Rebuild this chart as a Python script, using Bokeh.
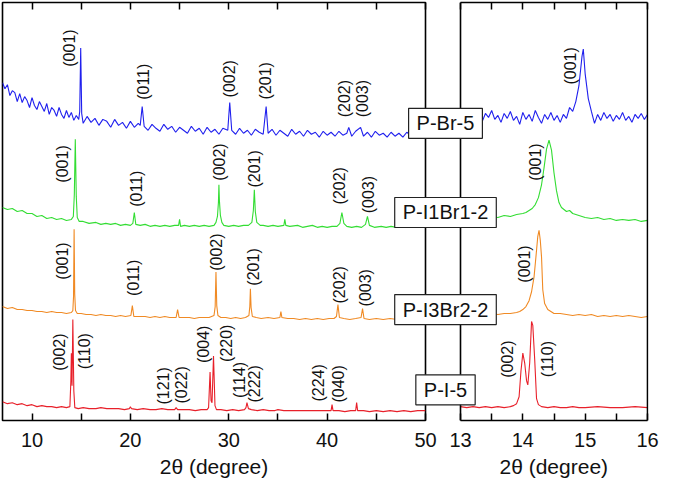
import numpy as np
from bokeh.plotting import figure
from bokeh.models import Range1d, LinearAxis, FixedTicker, Label, ColumnDataSource, Span, Title
from bokeh.layouts import row
from bokeh.core.properties import value
from bokeh.embed import file_html
from bokeh.resources import INLINE

# ---------------- data (2theta in degrees, stacked intensity in a.u.) ----------------
# Left panel: 7-50 deg
br5_pts = [(7.0, 341), (7.25, 335), (7.5, 339), (7.75, 328), (8.0, 333), (8.25, 331), (8.5, 322),
           (8.75, 330), (9.0, 321), (9.25, 327), (9.5, 323), (9.75, 316), (10.0, 326), (10.25, 318),
           (10.5, 314), (10.75, 322), (11.0, 317), (11.25, 312), (11.5, 320), (11.75, 309),
           (12.0, 316), (12.25, 313), (12.5, 307), (12.75, 316), (13.0, 309), (13.25, 305),
           (13.5, 313), (13.75, 306), (14.0, 311), (14.25, 303), (14.5, 308), (14.75, 304),
           (14.85, 312), (14.95, 376), (15.05, 310), (15.2, 300), (15.6, 307), (16.0, 301),
           (16.4, 305), (16.8, 298), (17.2, 304), (17.6, 302), (18.0, 296), (18.4, 304), (18.8, 298),
           (19.2, 301), (19.6, 295), (20.0, 302), (20.4, 296), (20.8, 300), (21.0, 298), (21.2, 317),
           (21.4, 297), (21.8, 293), (22.2, 299), (22.6, 295), (23.0, 292), (23.4, 299), (23.8, 294),
           (24.2, 297), (24.6, 291), (25.0, 296), (25.4, 293), (25.8, 290), (26.2, 297), (26.6, 292),
           (27.0, 295), (27.4, 289), (27.8, 296), (28.2, 291), (28.6, 294), (29.0, 289), (29.4, 295),
           (29.9, 293), (30.1, 321), (30.3, 293), (30.7, 289), (31.1, 295), (31.5, 290), (31.9, 293),
           (32.3, 288), (32.7, 294), (33.1, 291), (33.5, 289), (33.8, 317), (34.0, 290), (34.4, 294),
           (34.8, 288), (35.2, 293), (35.6, 290), (36.0, 287), (36.4, 294), (36.8, 289), (37.2, 292),
           (37.6, 287), (38.0, 293), (38.4, 289), (38.8, 291), (39.2, 286), (39.6, 292), (40.0, 288),
           (40.4, 291), (40.8, 287), (41.2, 292), (41.6, 288), (42.0, 290), (42.2, 296), (42.5, 287),
           (42.9, 292), (43.4, 296), (43.7, 287), (44.1, 291), (44.5, 286), (44.9, 292), (45.3, 288),
           (45.7, 290), (46.1, 286), (46.5, 291), (46.9, 287), (47.3, 290), (47.7, 286), (48.1, 291),
           (48.5, 288), (48.9, 285), (49.3, 291), (49.7, 287), (50.0, 289)]
br5_x = [p[0] for p in br5_pts]
br5_y = [p[1] for p in br5_pts]

i1br1_x = [7.0, 7.5, 8.0, 8.5, 9.0, 9.5, 10.0, 10.5, 11.0, 11.5, 12.0, 12.5, 13.0, 13.5, 14.0, 14.2,
           14.3, 14.4, 14.5, 14.6, 14.8, 15.2, 15.8, 16.5, 17.0, 17.5, 18.0, 18.5, 19.0, 19.5, 20.0,
           20.25, 20.4, 20.55, 21.0, 21.5, 22.0, 22.5, 23.0, 23.5, 24.0, 24.5, 24.9, 25.0, 25.1,
           25.5, 26.0, 26.5, 27.0, 27.5, 28.0, 28.5, 28.7, 28.85, 28.95, 29.0, 29.05, 29.15, 29.3,
           29.5, 30.0, 30.5, 31.0, 31.5, 32.0, 32.35, 32.5, 32.6, 32.7, 32.85, 33.2, 33.5, 34.0,
           34.5, 35.0, 35.6, 35.7, 35.8, 36.2, 37.0, 37.5, 38.0, 38.5, 39.0, 39.5, 40.0, 40.5,
           41.0, 41.3, 41.5, 41.7, 42.0, 42.5, 43.0, 43.5, 43.9, 44.1, 44.3, 44.8, 45.5, 46.0,
           46.5, 47.0, 47.5, 48.0, 48.5, 49.0, 49.5, 50.0]
i1br1_y = [215, 213, 214, 211, 212, 209, 209, 206, 207, 204, 205, 203, 204, 202, 203, 206,
           228, 284, 226, 205, 201, 201, 199, 200, 198, 199, 198, 199, 197, 198, 197,
           199, 210, 198, 197, 198, 196, 197, 196, 197, 196, 197, 197, 203, 196,
           197, 196, 197, 196, 197, 196, 197, 200, 206, 220, 238, 222, 207, 200,
           197, 196, 197, 196, 197, 197, 200, 212, 233, 211, 200, 197, 197, 196,
           197, 196, 197, 203, 197, 196, 197, 195, 196, 197, 195, 196, 195, 196,
           196, 199, 210, 199, 196, 195, 196, 195, 198, 206, 197, 195, 196, 195,
           196, 195, 196, 195, 196, 195, 196, 196]

i3br2_x = [7.0, 7.5, 8.0, 8.5, 9.0, 9.5, 10.0, 10.5, 11.0, 11.5, 12.0, 12.5, 13.0, 13.5, 14.0, 14.15,
           14.22, 14.28, 14.34, 14.42, 14.6, 15.0, 15.5, 16.0, 16.5, 17.0, 17.5, 18.0, 18.5, 19.0,
           19.5, 20.05, 20.2, 20.35, 20.8, 21.5, 22.0, 22.5, 23.0, 23.5, 24.0, 24.65, 24.8, 24.95,
           25.5, 26.0, 26.5, 27.0, 27.5, 28.0, 28.5, 28.62, 28.7, 28.78, 28.9, 29.2, 29.7, 30.2,
           30.7, 31.2, 31.7, 32.05, 32.14, 32.2, 32.27, 32.4, 32.8, 33.3, 34.0, 34.6, 35.2, 35.3,
           35.4, 36.0, 36.6, 37.2, 37.8, 38.4, 39.0, 39.6, 40.2, 40.7, 40.95, 41.1, 41.25, 41.7,
           42.3, 42.9, 43.45, 43.6, 43.75, 44.3, 45.0, 45.7, 46.4, 47.1, 47.8, 48.5, 49.2, 50.0]
i3br2_y = [115, 113, 114, 112, 112, 111, 111, 110, 110, 109, 110, 109, 109, 108, 109, 111,
           125, 193, 128, 111, 108, 108, 107, 107, 106, 107, 106, 106, 105, 106,
           105, 106, 116, 105, 105, 105, 104, 105, 104, 105, 104, 104, 112, 104,
           104, 104, 103, 104, 104, 104, 106, 115, 150, 116, 106, 104, 104, 103,
           104, 103, 104, 106, 115, 133, 114, 105, 104, 103, 104, 103, 104, 110,
           104, 103, 103, 102, 103, 102, 103, 102, 103, 103, 105, 117, 104, 103,
           102, 103, 104, 113, 103, 102, 103, 102, 103, 102, 102, 103, 102, 103]

i5_x = [7.0, 7.5, 8.0, 8.5, 9.0, 9.5, 10.0, 10.5, 11.0, 11.5, 12.0, 12.5, 13.0, 13.5, 13.85, 13.95,
        14.0, 14.07, 14.15, 14.25, 14.35, 14.7, 15.2, 15.8, 16.5, 17.0, 17.6, 18.2, 18.8, 19.4,
        19.9, 20.0, 20.1, 20.7, 21.3, 22.0, 22.6, 23.2, 23.8, 24.5, 24.65, 24.8, 25.4, 26.0,
        26.6, 27.2, 27.8, 27.95, 28.1, 28.2, 28.3, 28.45, 28.6, 28.75, 29.2, 29.8, 30.4, 31.0,
        31.6, 31.75, 31.85, 32.0, 32.3, 32.9, 33.5, 34.1, 34.7, 35.0, 35.6, 36.2, 36.8, 37.4,
        38.0, 38.6, 39.2, 39.8, 40.4, 40.5, 40.6, 41.2, 41.8, 42.4, 42.9, 43.0, 43.1, 43.7,
        44.3, 45.0, 45.7, 46.4, 47.1, 47.8, 48.5, 49.2, 50.0]
i5_y = [19, 17, 18, 16, 17, 15, 16, 14, 15, 14, 14, 13, 14, 13, 14, 40,
        68, 35, 102, 30, 13, 12, 13, 12, 12, 13, 12, 12, 12, 11,
        12, 14, 12, 11, 12, 11, 11, 12, 11, 11, 13, 11, 11, 11,
        10, 11, 11, 13, 49, 20, 18, 65, 15, 11, 11, 10, 11, 10,
        11, 13, 18, 12, 11, 10, 11, 10, 10, 11, 10, 10, 10, 10,
        10, 10, 10, 10, 10, 16, 10, 10, 9, 10, 10, 18, 10, 10,
        9, 10, 9, 10, 9, 10, 9, 10, 10]

# Right panel: 13-16 deg (zoom)
br5_zx = [13.00, 13.05, 13.10, 13.15, 13.20, 13.25, 13.30, 13.35, 13.40, 13.45, 13.50, 13.55,
          13.60, 13.65, 13.70, 13.75, 13.80, 13.85, 13.90, 13.95, 14.00, 14.05, 14.10, 14.15,
          14.20, 14.25, 14.30, 14.35, 14.40, 14.45, 14.50, 14.55, 14.60, 14.65, 14.70, 14.75,
          14.80, 14.85, 14.90, 14.95, 14.97, 15.00, 15.05, 15.10, 15.15, 15.20, 15.25, 15.30,
          15.35, 15.40, 15.45, 15.50, 15.55, 15.60, 15.65, 15.70, 15.75, 15.80, 15.85, 15.90,
          15.95, 16.00]
br5_zy = [306, 311, 303, 309, 304, 312, 305, 302, 310, 306, 313, 304,
          308, 301, 310, 305, 312, 303, 307, 299, 311, 304, 309, 302,
          313, 306, 300, 309, 304, 311, 303, 308, 301, 309, 305, 316,
          312, 322, 338, 368, 375, 350, 325, 312, 300, 309, 303, 311,
          305, 309, 302, 308, 304, 311, 303, 307, 301, 309, 305, 310,
          304, 309]

i1br1_zx = [13.0, 13.1, 13.2, 13.3, 13.4, 13.5, 13.6, 13.7, 13.8, 13.9, 14.0, 14.05, 14.1, 14.15,
            14.2, 14.25, 14.3, 14.34, 14.38, 14.42, 14.46, 14.5, 14.54, 14.58, 14.62, 14.66, 14.7,
            14.75, 14.8, 14.9, 15.0, 15.1, 15.2, 15.3, 15.4, 15.5, 15.6, 15.7, 15.8, 15.9, 16.0]
i1br1_zy = [204, 206, 204, 205, 204, 206, 205, 207, 206, 208, 209, 210, 212, 214,
            218, 225, 238, 255, 274, 283, 273, 250, 232, 220, 215, 213, 211,
            212, 209, 207, 205, 204, 205, 203, 204, 202, 203, 202, 203, 201, 202]

i3br2_zx = [13.0, 13.1, 13.2, 13.3, 13.4, 13.5, 13.6, 13.7, 13.8, 13.9, 13.95, 14.0, 14.05, 14.1,
            14.14, 14.18, 14.21, 14.24, 14.26, 14.28, 14.3, 14.32, 14.35, 14.4, 14.45, 14.5, 14.6,
            14.7, 14.8, 14.9, 15.0, 15.1, 15.2, 15.3, 15.4, 15.5, 15.6, 15.7, 15.8, 15.9, 16.0]
i3br2_zy = [107, 106, 108, 107, 106, 108, 107, 108, 108, 109, 110, 112, 115, 121,
            130, 145, 165, 186, 192, 182, 165, 132, 118, 112, 110, 108, 108,
            107, 106, 107, 106, 107, 105, 106, 105, 106, 105, 106, 105, 104, 105]

i5_zx = [13.0, 13.1, 13.2, 13.3, 13.4, 13.5, 13.6, 13.7, 13.8, 13.85, 13.9, 13.94, 13.97, 14.0,
         14.03, 14.06, 14.08, 14.11, 14.14, 14.16, 14.19, 14.22, 14.25, 14.3, 14.4, 14.5, 14.6,
         14.7, 14.8, 14.9, 15.0, 15.2, 15.4, 15.6, 15.8, 16.0]
i5_zy = [14, 13, 14, 13, 14, 13, 14, 13, 14, 15, 17, 24, 50, 68,
         58, 40, 36, 58, 100, 96, 62, 22, 16, 14, 13, 14, 13,
         13, 14, 13, 13, 14, 13, 13, 14, 13]

# Peak (Miller index) labels
lbl_left_x = [13.86, 21.38, 30.12, 33.78, 41.81, 43.64,
              13.05, 20.67, 29.10, 32.66, 41.30, 44.25,
              13.05, 20.36, 28.80, 32.56, 41.30, 43.94,
              12.84, 15.38, 23.41, 25.24, 27.48, 29.82, 31.14, 32.66, 39.17, 41.20]
lbl_left_y = [376, 342, 345, 343, 325, 325,
              259, 234, 261, 254, 237, 228,
              161, 144, 170, 155, 137, 134,
              69, 70, 35, 36, 77, 78, 41, 37, 38, 37]
lbl_left_t = ["(001)", "(011)", "(002)", "(201)", "(202)", "(003)",
              "(001)", "(011)", "(002)", "(201)", "(202)", "(003)",
              "(001)", "(011)", "(002)", "(201)", "(202)", "(003)",
              "(002)", "(110)", "(121)", "(022)", "(004)", "(220)", "(114)", "(222)", "(224)", "(040)"]

lbl_right_x = [14.77, 14.20, 14.02, 13.76, 14.39]
lbl_right_y = [358, 261, 158, 62, 62]
lbl_right_t = ["(001)", "(001)", "(001)", "(002)", "(110)"]

samples = ["P-Br-5", "P-I1Br1-2", "P-I3Br2-2", "P-I-5"]
sample_y = [300, 210, 112, 31]

colors = ["#1f1fee", "#33dd33", "#f08a24", "#e8202a"]

left_range = (7, 50)
right_range = (13, 16)
left_ticks = [10, 20, 30, 40, 50]
left_minor = [15, 25, 35, 45]
right_ticks = [13, 14, 15, 16]
right_minor = [13.5, 14.5, 15.5]
x_title = "2θ (degree)"

# ---------------- layout (pixels) ----------------
FONT = "Liberation Sans"
H = 480
Y_RANGE = (0, 422)
L_MBL, L_FW, L_MBR = 2, 423, 12            # left figure: border / frame / border
WL = L_MBL + L_FW + L_MBR                  # 437
WR = 272                                   # right figure width
OVERLAP = 50                               # right canvas overlaps the left one (transparent)
R_PAD_LEFT = 73                            # px of right frame left of 13 deg (under the boxes)
R_PANEL_W = 187                            # px of the 13-16 deg panel
R_SCALE = R_PANEL_W / (right_range[1] - right_range[0])
R_EXTRA = 1                                # px of frame right of 16 deg
R_MBR = WR - R_PAD_LEFT - R_PANEL_W - R_EXTRA
BOX_X = 58                                 # sample boxes, px from right frame left edge
TITLE_HALF_W = 55                          # approx. half width of the axis title text


def style_axis(ax, ticks, minor, show_labels, line=False):
    ax.ticker = FixedTicker(ticks=ticks, minor_ticks=minor)
    ax.major_tick_in = 7
    ax.major_tick_out = 0
    ax.minor_tick_in = 7
    ax.minor_tick_out = 0
    ax.major_tick_line_width = 1.5
    ax.minor_tick_line_width = 1.5
    ax.major_tick_line_color = "black"
    ax.minor_tick_line_color = "black"
    if line:
        ax.axis_line_color = "black"
        ax.axis_line_width = 1.6
    else:
        ax.axis_line_color = None
    ax.major_label_text_font = FONT
    ax.major_label_text_color = "#111111"
    if show_labels:
        ax.major_label_text_font_size = "20px"
        ax.major_label_text_line_height = 1.0
        ax.major_label_standoff = 12
    else:
        ax.major_label_overrides = {t: "" for t in ticks}
        ax.major_label_text_font_size = "2px"
        ax.major_label_standoff = 0


def axis_title(align, offset):
    return Title(text=x_title, align=align, offset=offset, standoff=6,
                 text_font=FONT, text_font_size="21px", text_font_style="normal",
                 text_color="#111111", text_line_height=1.0)


def make_fig(width, xr, mbl, mbr):
    p = figure(width=width, height=H, x_range=xr, y_range=Range1d(*Y_RANGE),
               output_backend="svg", toolbar_location=None,
               x_axis_location=None, y_axis_location=None,
               min_border_left=mbl, min_border_right=mbr, min_border_top=2,
               min_border_bottom=0)
    p.grid.grid_line_color = None
    return p


# ---------------- left panel ----------------
pL = make_fig(WL, Range1d(*left_range), L_MBL, L_MBR)
pL.outline_line_color = "black"
pL.outline_line_width = 1.6
for xs, ys, c in zip([br5_x, i1br1_x, i3br2_x, i5_x], [br5_y, i1br1_y, i3br2_y, i5_y], colors):
    pL.line(xs, ys, line_color=c, line_width=1.1)
axb = LinearAxis()
style_axis(axb, left_ticks, left_minor, True)
pL.add_layout(axb, "below")
pL.add_layout(axis_title("center", 0), "below")
axt = LinearAxis()
style_axis(axt, left_ticks, left_minor, False)
pL.add_layout(axt, "above")
srcL = ColumnDataSource(dict(x=lbl_left_x, y=lbl_left_y, t=lbl_left_t))
pL.text(x="x", y="y", text="t", source=srcL, angle=np.pi / 2, text_align="center",
        text_baseline="middle", text_font=value(FONT), text_font_size="16px",
        text_color="#111111")

# ---------------- right panel ----------------
# Its frame also covers the gap between the panels (transparent), so that the
# sample-name boxes can straddle both panels; the panel itself is bounded by
# the axis lines (bounds 13-16) and two vertical spans.
xr_right = Range1d(right_range[0] - R_PAD_LEFT / R_SCALE, right_range[1] + R_EXTRA / R_SCALE)
pR = make_fig(WR, xr_right, 0, R_MBR)
pR.margin = (0, 0, 0, -OVERLAP)
pR.outline_line_color = None
pR.border_fill_color = None
pR.background_fill_color = None
for xs, ys, c in zip([br5_zx, i1br1_zx, i3br2_zx, i5_zx], [br5_zy, i1br1_zy, i3br2_zy, i5_zy], colors):
    pR.line(xs, ys, line_color=c, line_width=1.1)
axb2 = LinearAxis(bounds=right_range)
style_axis(axb2, right_ticks, right_minor, True, line=True)
pR.add_layout(axb2, "below")
pR.add_layout(axis_title("left", int(round(R_PAD_LEFT + R_PANEL_W / 2 - TITLE_HALF_W))), "below")
axt2 = LinearAxis(bounds=right_range)
style_axis(axt2, right_ticks, right_minor, False, line=True)
pR.add_layout(axt2, "above")
for loc in right_range:
    pR.add_layout(Span(location=loc, dimension="height", line_color="black", line_width=1.6))
srcR = ColumnDataSource(dict(x=lbl_right_x, y=lbl_right_y, t=lbl_right_t))
pR.text(x="x", y="y", text="t", source=srcR, angle=np.pi / 2, text_align="center",
        text_baseline="middle", text_font=value(FONT), text_font_size="16px",
        text_color="#111111")

# sample name boxes (x in px from the right figure's frame left edge)
for name, yv in zip(samples, sample_y):
    pR.add_layout(Label(x=BOX_X, y=yv, x_units="screen", y_units="data", text=name,
                        text_align="center", text_baseline="middle",
                        text_font=FONT, text_font_size="20px", text_color="#111111",
                        background_fill_color="white", border_line_color="#222222",
                        border_line_width=1.2,
                        padding=dict(left=8, right=8, top=4, bottom=4)))

layout = row(pL, pR)
open("out.html", "w").write(file_html(layout, INLINE))
